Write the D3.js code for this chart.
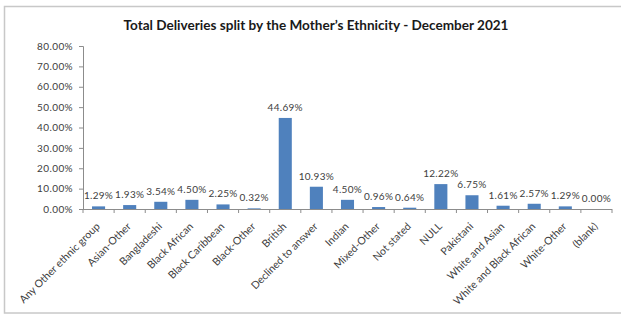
<!DOCTYPE html>
<html><head><meta charset="utf-8">
<script src="https://cdn.jsdelivr.net/npm/d3@7"></script>
<style>
html,body{margin:0;padding:0;background:#fff;}
svg{display:block;}
text{font-family:Lato,"Open Sans",sans-serif;}
</style></head>
<body>
<svg id="chart" width="621" height="315"></svg>
<script>
const categories = ["Any Other ethnic group","Asian-Other","Bangladeshi","Black African","Black Caribbean","Black-Other","British","Declined to answer","Indian","Mixed-Other","Not stated","NULL","Pakistani","White and Asian","White and Black African","White-Other","(blank)"];
const values = [1.29,1.93,3.54,4.50,2.25,0.32,44.69,10.93,4.50,0.96,0.64,12.22,6.75,1.61,2.57,1.29,0.00];
const yTicks = [0,10,20,30,40,50,60,70,80];
const title = "Total Deliveries split by the Mother\u2019s Ethnicity - December 2021";

(function(){
const svg = d3.select("#chart");
// outer frame
svg.append("rect").attr("x",4.5).attr("y",6.5).attr("width",620).attr("height",306.5)
  .attr("fill","#fff").attr("stroke","#c8c8c8").attr("stroke-width",1.5);

const pL = 83, pR = 612, pT = 46, pB = 209;
const x = d3.scaleBand().domain(categories).range([pL,pR]).paddingInner(0.58).paddingOuter(0.29);
const xTick = d3.scaleBand().domain(categories).range([pL,pR]);
const y = d3.scaleLinear().domain([0,80]).range([pB,pT]);

svg.append("text").attr("x",316).attr("y",30).attr("text-anchor","middle")
  .attr("font-size",12.5).attr("font-weight","bold").attr("fill","#1a1a1a")
  .attr("textLength",385).attr("lengthAdjust","spacingAndGlyphs").text(title);

// y axis
const yAxis = d3.axisLeft(y).tickValues(yTicks).tickSize(4).tickPadding(6)
  .tickFormat(d => d.toFixed(2) + "%");
const gy = svg.append("g").attr("transform",`translate(${pL},0)`).call(yAxis);
gy.select(".domain").attr("stroke","#8c8c8c");
gy.selectAll(".tick line").attr("stroke","#8c8c8c");
gy.selectAll(".tick text").attr("font-size",10).attr("fill","#404040").attr("font-family","Lato,sans-serif")
  .attr("letter-spacing",0.4);

// x axis
const gx = svg.append("g").attr("transform",`translate(0,${pB})`);
gx.append("line").attr("x1",pL).attr("x2",pR).attr("y1",0.5).attr("y2",0.5).attr("stroke","#8c8c8c");
gx.selectAll("line.t").data(categories.concat(["_end"])).enter().append("line").attr("class","t")
  .attr("x1",(d,i)=> pL + i*xTick.step()).attr("x2",(d,i)=> pL + i*xTick.step())
  .attr("y1",0).attr("y2",4).attr("stroke","#8c8c8c");
gx.selectAll("text.xl").data(categories).enter().append("text").attr("class","xl")
  .attr("transform",d => `translate(${xTick(d)+xTick.bandwidth()/2+2},${18}) rotate(-45)`)
  .attr("text-anchor","end").attr("font-size",10.5).attr("fill","#404040").text(d=>d);

// bars
svg.selectAll("rect.bar").data(values).enter().append("rect").attr("class","bar")
  .attr("x",(d,i)=>x(categories[i])).attr("width",x.bandwidth())
  .attr("y",d=>y(d)).attr("height",d=>Math.max(0,pB-y(d))).attr("fill","#4f81bd");

// data labels
svg.selectAll("text.lbl").data(values).enter().append("text").attr("class","lbl")
  .attr("x",(d,i)=>x(categories[i])+x.bandwidth()/2).attr("y",d=>y(d)-7)
  .attr("text-anchor","middle").attr("font-size",10).attr("fill","#404040")
  .attr("letter-spacing",0.3)
  .text(d=>d.toFixed(2)+"%");
})();
</script>
</body></html>
